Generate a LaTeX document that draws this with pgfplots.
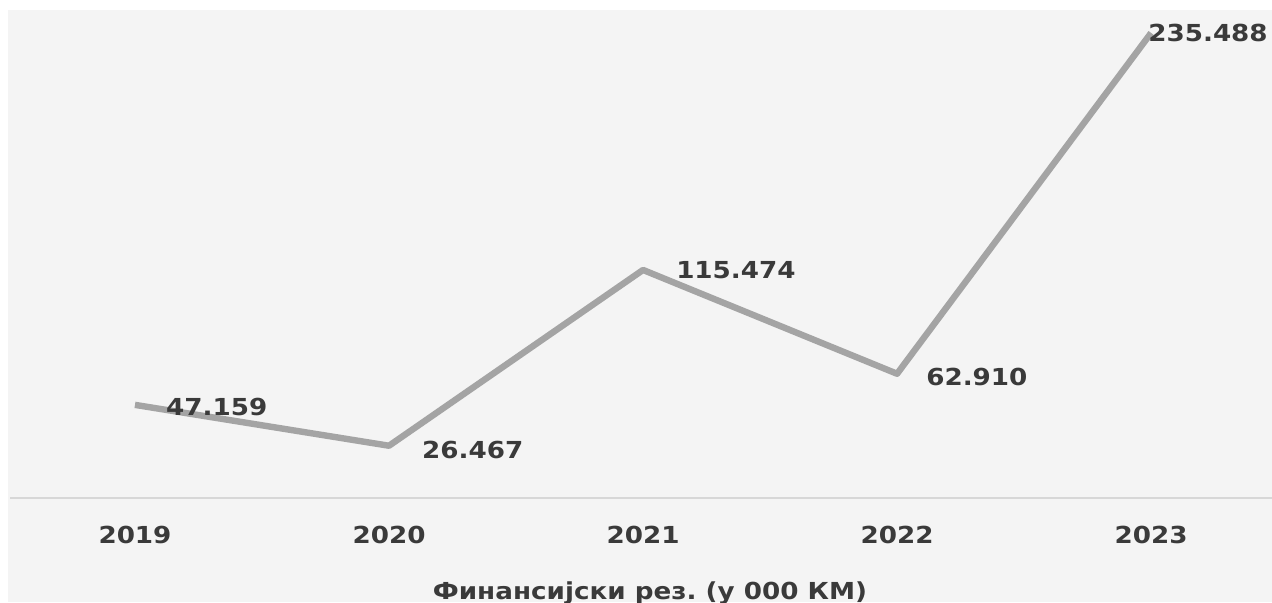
\documentclass[border=0pt]{standalone}
\usepackage{fontspec}
\setmainfont{DejaVu Sans}[FakeStretch=1.12]
\usepackage{pgfplots}
\pgfplotsset{compat=1.18}
\usepackage{pgfplotstable}
\frenchspacing

\definecolor{bg}{RGB}{244,244,244}
\definecolor{linegray}{RGB}{164,164,164}
\definecolor{txt}{RGB}{58,58,58}
\definecolor{axgray}{RGB}{215,215,215}

% godina (0 = 2019), rezultat u 000 KM, pomak oznake
\pgfplotstableread{
x y dx dy
0 47159 14 -1
1 26467 15 -2
2 115474 15 0
3 62910 13 -1.5
4 235488 -3 0
}\rezultat

\begin{document}
\begin{tikzpicture}
\useasboundingbox (0,0) rectangle (636pt,301pt);
\fill[white] (0,0) rectangle (636pt,301pt);
\fill[bg] (4pt,0) rectangle (636pt,296pt);
\begin{axis}[
    at={(5pt,52pt)}, anchor=south west,
    scale only axis,
    width=631pt, height=244pt,
    xmin=-0.492, xmax=4.476,
    ymin=0, ymax=247089,
    axis y line=none,
    axis x line*=bottom,
    x axis line style={-, axgray, line width=0.6pt},
    xtick={0,1,2,3,4},
    xticklabels={2019,2020,2021,2022,2023},
    major tick length=0pt,
    ytick=\empty,
    xticklabel style={anchor=center, yshift=-18.5pt,
        font=\fontsize{11.7}{14}\selectfont\bfseries, text=txt},
    clip=false,
]
\addplot[linegray, line width=3.2pt, line join=round, mark=none,
    point meta=y,
    visualization depends on={\thisrow{dx} \as \dx},
    visualization depends on={\thisrow{dy} \as \dy},
    nodes near coords={\pgfmathprintnumber[fixed, precision=0, 1000 sep={.}, assume math mode=true]{\pgfplotspointmeta}},
    nodes near coords style={anchor=west, inner sep=0pt,
        xshift=\dx pt, yshift=\dy pt,
        font=\fontsize{11.7}{14}\selectfont\bfseries, text=txt},
] table[x=x, y=y] {\rezultat};
\end{axis}
\node[anchor=base, font=\fontsize{11.7}{14}\selectfont\bfseries, text=txt, inner sep=0pt]
    at (325pt,1.5pt) {Финансијски рез. (у 000 КМ)};
\end{tikzpicture}
\end{document}
